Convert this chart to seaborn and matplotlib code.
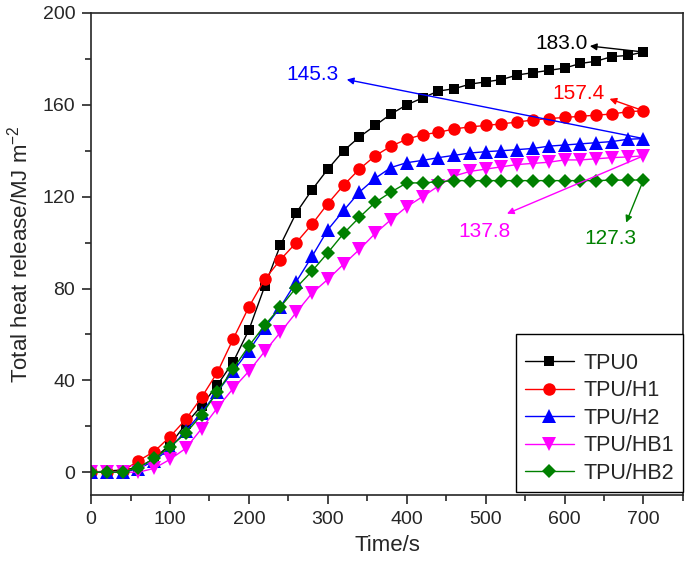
import matplotlib
matplotlib.use("Agg")
import matplotlib.pyplot as plt
import seaborn as sns
import pandas as pd
from matplotlib.ticker import MultipleLocator

time = list(range(0, 701, 20))
tpu0 = [0, 0.5, 1, 2, 6, 12, 21, 29, 38, 48, 62, 81, 99, 113, 123, 132, 140, 146,
        151, 156, 160, 163, 166, 167, 169, 170, 171, 173, 174, 175, 176, 178, 179,
        181, 181.5, 183.0]
tpu_h1 = [0, 0, 0.5, 5, 9, 15.5, 23, 32.6, 43.5, 58, 72, 84, 92.6, 100, 108, 117,
          125, 132, 137.8, 142, 145, 147, 148, 149.5, 150.4, 151, 151.7, 152.5,
          153.4, 154, 154.5, 155, 155.5, 156, 157, 157.4]
tpu_h2 = [0, 0, 0, 1.5, 5, 10.5, 18, 26, 35, 44, 53, 63, 72, 83, 94, 105.6, 114,
          122, 128, 132.7, 134.8, 135.8, 137, 138, 139, 139.6, 140, 140.5, 141,
          142, 142.5, 143, 143.5, 144, 145, 145.3]
tpu_hb1 = [0, 0, 0, 0, 1.7, 5.6, 10.4, 19, 28, 36.5, 44, 52.6, 61, 69.6, 78, 84,
           90.6, 97, 104, 110, 115.6, 120, 124.6, 129, 131, 132, 133, 134, 134.5,
           135, 136, 136, 136.5, 137, 137.3, 137.8]
tpu_hb2 = [0, 0, 0, 2, 6, 11, 17, 25, 35, 45, 55, 64, 72, 80.4, 87.6, 95.6, 104,
           111, 117.5, 122, 126, 126, 126.5, 127, 127, 127, 127, 127, 127, 127,
           127, 127, 127, 127.2, 127.2, 127.3]

names = ["TPU0", "TPU/H1", "TPU/H2", "TPU/HB1", "TPU/HB2"]
series = [tpu0, tpu_h1, tpu_h2, tpu_hb1, tpu_hb2]
colors = ["black", "red", "blue", "magenta", "green"]
markers = ["s", "o", "^", "v", "D"]
msizes = [7.5, 9, 9.5, 9.5, 7]
final_labels = ["183.0", "157.4", "145.3", "137.8", "127.3"]

sns.set_style("ticks")
plt.rcParams["font.family"] = ["Liberation Sans", "DejaVu Sans"]

fig, ax = plt.subplots(figsize=(6.85, 5.64), dpi=100)
for name, s, c, m, ms in zip(names, series, colors, markers, msizes):
    d = pd.DataFrame({"Time": time, "THR": s})
    sns.lineplot(data=d, x="Time", y="THR", color=c, marker=m, markersize=ms,
                 markeredgewidth=0, linewidth=1, label=name, ax=ax)

# labels of final values with arrows: (text pos, arrow head pos)
ann = [
    ((596, 186.5), (632, 185.6)),
    ((618, 165), (657, 162.6)),
    ((281, 173), (324, 171)),
    ((499, 105), (527, 112.6)),
    ((658, 101.7), (678, 108.7)),
]
for (txt, head), s, c, lab in zip(ann, series, colors, final_labels):
    ax.annotate("", xy=head, xytext=(700, s[-1]),
                arrowprops=dict(arrowstyle="-|>", color=c, lw=1, mutation_scale=10,
                                shrinkA=0, shrinkB=0))
    ax.text(txt[0], txt[1], lab, color=c, fontsize=15, ha="center", va="center")

ax.set_xlim(0, 750)
ax.set_ylim(-10, 200)
ax.xaxis.set_major_locator(MultipleLocator(100))
ax.xaxis.set_minor_locator(MultipleLocator(50))
ax.yaxis.set_major_locator(MultipleLocator(40))
ax.yaxis.set_minor_locator(MultipleLocator(20))
ax.tick_params(which="major", length=6.5, width=1.2, labelsize=14, pad=5)
ax.tick_params(which="minor", length=4, width=1.2)
for sp in ax.spines.values():
    sp.set_linewidth(1.2)
    sp.set_visible(True)
ax.set_xlabel("Time/s", fontsize=16, labelpad=5)
ax.set_ylabel(r"Total heat release/MJ m$^{\mathregular{-2}}$", fontsize=16, labelpad=7)

leg = ax.legend(loc="lower right", bbox_to_anchor=(1.0, 0.006), borderaxespad=0,
                fontsize=15.5, fancybox=False, edgecolor="black", framealpha=1,
                handlelength=2.3, handletextpad=0.45, labelspacing=0.3,
                title=" ", title_fontsize=3)
leg.get_frame().set_linewidth(1)

plt.subplots_adjust(left=0.133, right=0.997, top=0.977, bottom=0.122)
fig.savefig("out.png", dpi=100)
